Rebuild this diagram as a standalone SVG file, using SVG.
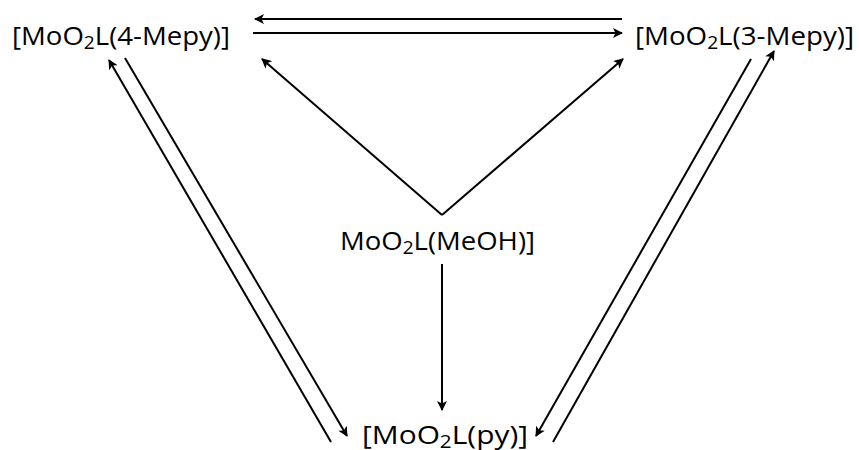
<svg xmlns="http://www.w3.org/2000/svg" width="859" height="450" viewBox="0 0 859 450">
<defs>
<marker id="ah" viewBox="0 0 10 10" refX="9" refY="5" markerWidth="10" markerHeight="10" markerUnits="userSpaceOnUse" orient="auto">
<path d="M0,0 L10,5 L0,10 L2.5,5 z" fill="#000"/>
</marker>
<style>
.lbl{font-family:"Open Sans","Liberation Sans",sans-serif;font-size:26px;fill:#000}
.sub{font-size:18px}
.c{stroke:#000;stroke-width:2;fill:none}
</style>
</defs>
<rect width="859" height="450" fill="#fff"/>
<g id="connectors">
<line class="c" x1="622" y1="19" x2="255" y2="19" marker-end="url(#ah)"/>
<line class="c" x1="253" y1="33" x2="622" y2="33" marker-end="url(#ah)"/>
<line class="c" x1="442" y1="215" x2="262" y2="59" marker-end="url(#ah)"/>
<line class="c" x1="442" y1="215" x2="623" y2="59" marker-end="url(#ah)"/>
<line class="c" x1="442" y1="264" x2="442" y2="410" marker-end="url(#ah)"/>
<line class="c" x1="331" y1="442" x2="109" y2="60" marker-end="url(#ah)"/>
<line class="c" x1="125" y1="58" x2="347" y2="436" marker-end="url(#ah)"/>
<line class="c" x1="553" y1="442" x2="774" y2="51" marker-end="url(#ah)"/>
<line class="c" x1="751" y1="59" x2="536" y2="436" marker-end="url(#ah)"/>
</g>
<g id="n-4mepy"><text class="lbl" x="12" y="45" textLength="218" lengthAdjust="spacingAndGlyphs">[MoO<tspan class="sub" dy="4">2</tspan><tspan dy="-4">L(4-Mepy)]</tspan></text></g>
<g id="n-3mepy"><text class="lbl" x="635" y="45" textLength="219" lengthAdjust="spacingAndGlyphs">[MoO<tspan class="sub" dy="4">2</tspan><tspan dy="-4">L(3-Mepy)]</tspan></text></g>
<g id="n-meoh"><text class="lbl" x="340" y="250" textLength="195" lengthAdjust="spacingAndGlyphs">MoO<tspan class="sub" dy="4">2</tspan><tspan dy="-4">L(MeOH)]</tspan></text></g>
<g id="n-py"><text class="lbl" x="362" y="444" textLength="166" lengthAdjust="spacingAndGlyphs">[MoO<tspan class="sub" dy="4">2</tspan><tspan dy="-4">L(py)]</tspan></text></g>
</svg>
